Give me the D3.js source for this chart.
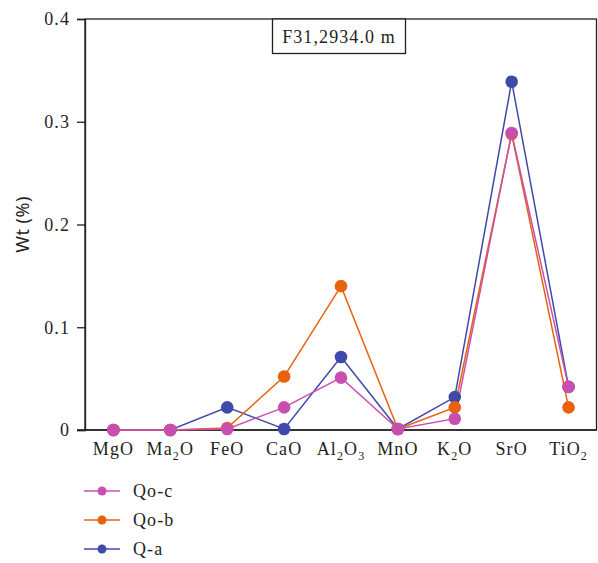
<!DOCTYPE html>
<html>
<head>
<meta charset="UTF-8" />
<title></title>
<script src="https://cdn.jsdelivr.net/npm/d3@7"></script>
<style>
    body { margin: 0; background: #fff; }
    svg text { font-family: "Liberation Serif", "DejaVu Serif", serif; fill: #231f20; letter-spacing: 1.1px; }
</style>
</head>
<body>
<div id="chart"></div>
<script type="text/javascript">
    // oxides on the x axis (digits are drawn as subscripts)
    var categories = [
        ["MgO"], ["Ma", "2", "O"], ["FeO"], ["CaO"], ["Al", "2", "O", "3"],
        ["MnO"], ["K", "2", "O"], ["SrO"], ["TiO", "2"]
    ];
    var catKeys = ["MgO", "Ma2O", "FeO", "CaO", "Al2O3", "MnO", "K2O", "SrO", "TiO2"];
    var yTicks = [0, 0.1, 0.2, 0.3, 0.4];

    var qa = [0, 0, 0.022, 0.001, 0.071, 0.001, 0.032, 0.339, 0.042];
    var qob = [0, 0, 0.002, 0.052, 0.140, 0.001, 0.022, 0.288, 0.022];
    var qoc = [0, 0, 0.001, 0.022, 0.051, 0.001, 0.011, 0.289, 0.042];

    var series = [
        { name: "Q-a", values: qa, color: "#3f4aa8" },
        { name: "Qo-b", values: qob, color: "#e8620c" },
        { name: "Qo-c", values: qoc, color: "#c84fb0" }
    ];
    var legendOrder = ["Qo-c", "Qo-b", "Q-a"];

    var W = 598, H = 563;
    var m = { left: 85, right: 1, top: 19, bottom: 133 };

    var svg = d3.select("#chart").append("svg").attr("width", W).attr("height", H);

    var x = d3.scalePoint().domain(catKeys).range([m.left, W - m.right]).padding(0.5);
    var y = d3.scaleLinear().domain([0, 0.4]).range([H - m.bottom, m.top]);

    // frame
    svg.append("rect")
        .attr("x", m.left).attr("y", m.top)
        .attr("width", W - m.right - m.left - 0.5).attr("height", y(0) - m.top)
        .attr("fill", "none").attr("stroke", "#231f20").attr("stroke-width", 1.3);

    // y axis
    var yAxis = svg.append("g").attr("transform", "translate(" + m.left + ",0)")
        .call(d3.axisLeft(y).tickValues(yTicks).tickSize(8).tickPadding(7)
            .tickFormat(function (d) { return d === 0 ? "0" : d3.format(".1f")(d); }));
    yAxis.select(".domain").attr("stroke", "#231f20").attr("stroke-width", 1.3);
    yAxis.selectAll(".tick line").attr("stroke", "#231f20").attr("stroke-width", 1.3);
    yAxis.selectAll(".tick text").attr("font-size", 18).attr("fill", "#231f20")
        .style("font-family", "Liberation Serif, serif");

    // x baseline runs out to the tick marks
    svg.append("line").attr("x1", m.left - 8).attr("x2", W - m.right)
        .attr("y1", y(0)).attr("y2", y(0)).attr("stroke", "#231f20").attr("stroke-width", 1.6);

    // x labels with subscripts
    catKeys.forEach(function (k, i) {
        var parts = categories[i];
        var t = svg.append("text").attr("x", x(k)).attr("y", y(0) + 25)
            .attr("text-anchor", "middle").attr("font-size", 18);
        parts.forEach(function (p, j) {
            var isSub = /^[0-9]$/.test(p);
            var ts = t.append("tspan").text(p);
            if (isSub) {
                ts.attr("font-size", 12).attr("dy", 5);
            } else if (j > 0 && /^[0-9]$/.test(parts[j - 1])) {
                ts.attr("dy", -5);
            }
        });
    });

    // y title
    svg.append("text")
        .attr("transform", "translate(29," + y(0.2) + ") rotate(-90)")
        .attr("text-anchor", "middle").attr("font-size", 18)
        .style("font-family", "Noto Sans, sans-serif").style("letter-spacing", "0.5px")
        .text("Wt (%)");

    // label box
    svg.append("rect").attr("x", 272.5).attr("y", m.top).attr("width", 133).attr("height", 34.5)
        .attr("fill", "#fff").attr("stroke", "#231f20").attr("stroke-width", 1.3);
    svg.append("text").attr("x", 339).attr("y", 43).attr("text-anchor", "middle")
        .attr("font-size", 18).text("F31,2934.0 m");

    // lines and dots
    var line = d3.line().x(function (d, i) { return x(catKeys[i]); }).y(function (d) { return y(d); });
    series.forEach(function (s) {
        svg.append("path").datum(s.values).attr("d", line)
            .attr("fill", "none").attr("stroke", s.color).attr("stroke-width", 1.5);
    });
    series.forEach(function (s) {
        svg.append("g").selectAll("circle").data(s.values).enter().append("circle")
            .attr("cx", function (d, i) { return x(catKeys[i]); })
            .attr("cy", function (d) { return y(d); })
            .attr("r", 6.3).attr("fill", s.color);
    });

    // legend
    var lg = svg.append("g");
    legendOrder.forEach(function (name, i) {
        var s = series.filter(function (d) { return d.name === name; })[0];
        var ly = 491 + i * 29;
        lg.append("line").attr("x1", 84).attr("x2", 120).attr("y1", ly).attr("y2", ly)
            .attr("stroke", s.color).attr("stroke-width", 1.5);
        lg.append("circle").attr("cx", 102).attr("cy", ly).attr("r", 4.5).attr("fill", s.color);
        lg.append("text").attr("x", 133).attr("y", ly + 6).attr("font-size", 18).text(name);
    });
</script>
</body>
</html>
